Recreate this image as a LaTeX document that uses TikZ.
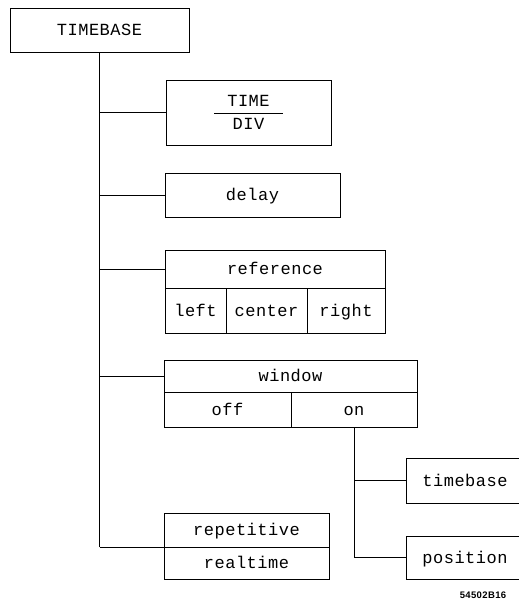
\documentclass[tikz,border=0pt]{standalone}
\usepackage{fontspec}
\newfontfamily\plotfont{Liberation Mono}[LetterSpace=3]
\newfontfamily\tagfont{Liberation Sans}[LetterSpace=4]
\begin{document}
\begin{tikzpicture}[x=1pt, y=-1pt,
  frame/.style={draw, line width=0.8pt, inner sep=0pt, font=\fontsize{17}{20}\plotfont},
  box/.style={frame, text height=11pt, text depth=0pt},
  wire/.style={line width=0.8pt}]
\useasboundingbox (0,0) rectangle (519,605);

\node[box, minimum width=179pt, minimum height=44pt] at (99.5,30) (top) {TIMEBASE};
\node[frame, minimum width=165pt, minimum height=65pt] at (248.5,112.5) (div)
  {$\displaystyle{\hbox{\hspace{13pt}TIME\hspace{13pt}}\over\hbox{DIV}}$};
\node[box, minimum width=175pt, minimum height=44pt] at (252.5,195) (delay) {delay};

\node[box, minimum width=220pt, minimum height=38pt] at (275,269) (ref) {reference};
\node[box, minimum width=61pt, minimum height=45pt] at (195.5,310.5) (left) {left};
\node[box, minimum width=81pt, minimum height=45pt] at (266.5,310.5) (center) {center};
\node[box, minimum width=78pt, minimum height=45pt] at (346,310.5) (right) {right};

\node[box, minimum width=253pt, minimum height=32pt] at (290.5,376) (win) {window};
\node[box, minimum width=127pt, minimum height=35pt] at (227.5,409.5) (off) {off};
\node[box, minimum width=126pt, minimum height=35pt] at (354,409.5) (on) {on};

\node[box, minimum width=118pt, minimum height=45pt] at (465,480.5) (tbw) {timebase};
\node[box, minimum width=118pt, minimum height=43pt] at (465,557.5) (pos) {position};

\node[box, minimum width=165pt, minimum height=34pt] at (246.5,530) (rep) {repetitive};
\node[box, minimum width=165pt, minimum height=32pt] at (246.5,563) (real) {realtime};

\node[font=\fontsize{9.5}{11}\tagfont\bfseries] at (483,595.5) (tag) {54502B16};

\draw[wire] (top.south) -- (top.south |- rep.south west);
\draw[wire] (top.south |- div.west) -- (div.west);
\draw[wire] (top.south |- delay.west) -- (delay.west);
\draw[wire] (top.south |- ref.west) -- (ref.west);
\draw[wire] (top.south |- win.west) -- (win.west);
\draw[wire] (top.south |- rep.south west) -- (rep.south west);

\draw[wire] (on.south) -- (on.south |- pos.west);
\draw[wire] (on.south |- tbw.west) -- (tbw.west);
\draw[wire] (on.south |- pos.west) -- (pos.west);
\end{tikzpicture}
\end{document}
